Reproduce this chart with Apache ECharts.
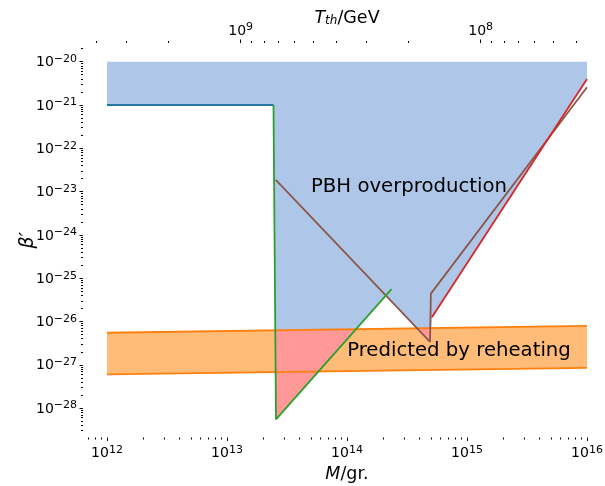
<!DOCTYPE html>
<html><head><meta charset="utf-8">
<script src="https://cdn.jsdelivr.net/npm/echarts@6/dist/echarts.min.js"></script>
<style>html,body{margin:0;padding:0;background:#fff}#c{width:605px;height:486px}</style>
</head><body><div id="c"></div>
<script>
// ---------------- data ----------------
const overprodM = [1e12, 1e16];
const overprodBeta = [1e-20, 1e-20];
const blueLineM = [1e12, 2.44e13];
const blueLineBeta = [1e-21, 1e-21];
const greenM = [2.44e13, 2.56e13, 2.35e14];
const greenBeta = [1e-21, 5.5e-29, 5.6e-26];
const brownM = [2.55e13, 4.92e14, 5.0e14, 1e16];
const brownBeta = [1.86e-23, 3.4e-27, 4.4e-26, 2.57e-21];
const redM = [5.1e14, 1e16];
const redBeta = [1.26e-26, 4.0e-21];
const reheatM = [1e12, 1e16];
const reheatUpper = [5.5e-27, 7.9e-27];
const reheatLower = [6.0e-28, 8.5e-28];
const xTickExp = [12, 13, 14, 15, 16];
const yTickExp = [-28, -27, -26, -25, -24, -23, -22, -21, -20];
const topTickExp = [9, 8];
const tempRef = [1e9, 1.30e13]; // T = 1e9 GeV at M = 1.3e13 g, T ~ M^-1/2
const labels = ['PBH overproduction', 'Predicted by reheating'];

// ---------------- helpers ----------------
const L = Math.log10;
const pts = (ms, bs) => ms.map((m, i) => [L(m), L(bs[i])]);
const XMIN = 11.8, XMAX = 16.2, YMIN = -28.679, YMAX = -19.568;
const FONT = 'DejaVu Sans';
const tToX = t => L(tempRef[1]) + 2 * (L(tempRef[0]) - L(t));

const blueLine = pts(blueLineM, blueLineBeta);
const green = pts(greenM, greenBeta);
const brown = pts(brownM, brownBeta);
const red = pts(redM, redBeta);
const up = pts(reheatM, reheatUpper);
const lo = pts(reheatM, reheatLower);

function intersect(a, b, c, d) {
  const den = (b[0]-a[0])*(d[1]-c[1]) - (b[1]-a[1])*(d[0]-c[0]);
  const t = ((c[0]-a[0])*(d[1]-c[1]) - (c[1]-a[1])*(d[0]-c[0])) / den;
  return [a[0] + t*(b[0]-a[0]), a[1] + t*(b[1]-a[1])];
}
const gb = intersect(green[1], green[2], brown[0], brown[1]);
// lower edge of the excluded region
const C = [blueLine[0], blueLine[1], green[1], gb, brown[1], red[0], red[1]];
const O = x => up[0][1] + (up[1][1]-up[0][1]) * (x-up[0][0]) / (up[1][0]-up[0][0]);
function merge(mode) {
  const out = [];
  for (let i = 0; i < C.length; i++) {
    const p = C[i];
    out.push([p[0], mode > 0 ? Math.max(p[1], O(p[0])) : Math.min(p[1], O(p[0]))]);
    if (i < C.length - 1) {
      const q = C[i+1];
      const d0 = p[1] - O(p[0]), d1 = q[1] - O(q[0]);
      if (d0 * d1 < 0) {
        const t = d0 / (d0 - d1);
        out.push([p[0] + t*(q[0]-p[0]), p[1] + t*(q[1]-p[1])]);
      }
    }
  }
  return out;
}
const top20 = pts(overprodM, overprodBeta);
const bluePoly = top20.concat(merge(1).reverse());
const pinkPoly = up.concat(merge(-1).reverse());
const orangePoly = up.concat(lo.slice().reverse());

function polySeries(poly, color, z) {
  return {
    type: 'custom', xAxisIndex: 0, yAxisIndex: 0, z: z, silent: true,
    data: [poly[0]],
    renderItem: (params, api) => ({
      type: 'polygon',
      shape: { points: poly.map(p => api.coord(p)) },
      style: { fill: color }
    })
  };
}
function lineSeries(data, color, z) {
  return {
    type: 'line', xAxisIndex: 0, yAxisIndex: 0, data: data, z: z,
    symbol: 'none', silent: true, lineStyle: { color: color, width: 1.8 }
  };
}
function minorVals(lo, hi) {
  const v = [];
  for (let n = Math.floor(lo) - 1; n <= Math.ceil(hi); n++)
    for (let k = 2; k <= 9; k++) { const x = n + L(k); if (x >= lo && x <= hi) v.push(x); }
  return v;
}
function minorTopVals() {
  const v = [];
  for (let n = 6; n <= 10; n++)
    for (let k = 2; k <= 9; k++) { const x = tToX(k * Math.pow(10, n)); if (x >= XMIN && x <= XMAX) v.push(x); }
  return v;
}
const richNum = {
  b: { fontSize: 14, fontFamily: FONT, color: '#000', lineHeight: 16, verticalAlign: 'bottom' },
  s: { fontSize: 11, fontFamily: FONT, color: '#000', lineHeight: 11, verticalAlign: 'top' }
};
const pow = e => '{b|10}{s|' + String(e).replace('-', '\u2212') + '}';
const tickStyle = len => ({ show: true, length: len, lineStyle: { color: '#000', width: 1 } });

const chart = echarts.init(document.getElementById('c'), null, { renderer: 'canvas' });
chart.setOption({
  animation: false,
  backgroundColor: '#fff',
  grid: { left: 83, top: 43, width: 528, height: 394.5, containLabel: false, outerBoundsMode: 'none' },
  xAxis: [
    { type: 'value', position: 'bottom', min: XMIN, max: XMAX,
      axisLine: { show: false }, splitLine: { show: false },
      axisTick: Object.assign(tickStyle(3.5), { customValues: xTickExp }),
      axisLabel: { customValues: xTickExp, margin: 7, formatter: v => pow(Math.round(v)), rich: richNum },
      name: '{i|M}{r|/gr.}', nameLocation: 'middle', nameGap: 28, nameMoveOverlap: false,
      nameTextStyle: { rich: {
        i: { fontSize: 17.5, fontFamily: FONT, fontStyle: 'italic', color: '#000' },
        r: { fontSize: 17.5, fontFamily: FONT, color: '#000' } } } },
    { type: 'value', position: 'bottom', min: XMIN, max: XMAX,
      axisLine: { show: false }, splitLine: { show: false }, axisLabel: { show: false },
      axisTick: Object.assign(tickStyle(2), { customValues: minorVals(XMIN, XMAX) }) },
    { type: 'value', position: 'top', min: XMIN, max: XMAX,
      axisLine: { show: false }, splitLine: { show: false },
      axisTick: Object.assign(tickStyle(3.5), { customValues: topTickExp.map(e => tToX(Math.pow(10, e))) }),
      axisLabel: { customValues: topTickExp.map(e => tToX(Math.pow(10, e))), margin: 5,
        formatter: v => pow(Math.round(L(tempRef[0]) - (v - L(tempRef[1])) / 2)), rich: richNum },
      name: '{i|T}{sub|th}{r|/GeV}', nameLocation: 'middle', nameGap: 16, nameMoveOverlap: false,
      nameTextStyle: { rich: {
        i: { fontSize: 17.5, fontFamily: FONT, fontStyle: 'italic', color: '#000', lineHeight: 20, verticalAlign: 'bottom' },
        sub: { fontSize: 12, fontFamily: FONT, fontStyle: 'italic', color: '#000', lineHeight: 12, verticalAlign: 'bottom' },
        r: { fontSize: 17.5, fontFamily: FONT, color: '#000', lineHeight: 20, verticalAlign: 'bottom' } } } },
    { type: 'value', position: 'top', min: XMIN, max: XMAX,
      axisLine: { show: false }, splitLine: { show: false }, axisLabel: { show: false },
      axisTick: Object.assign(tickStyle(2), { customValues: minorTopVals() }) }
  ],
  yAxis: [
    { type: 'value', position: 'left', min: YMIN, max: YMAX,
      axisLine: { show: false }, splitLine: { show: false },
      axisTick: Object.assign(tickStyle(3.5), { customValues: yTickExp }),
      axisLabel: { customValues: yTickExp, margin: 6, formatter: v => pow(Math.round(v)), rich: richNum },
      name: '\u03b2\u2032', nameLocation: 'middle', nameGap: 45, nameRotate: 90, nameMoveOverlap: false,
      nameTextStyle: { fontSize: 19, fontFamily: FONT, fontStyle: 'italic', color: '#000' } },
    { type: 'value', position: 'left', min: YMIN, max: YMAX,
      axisLine: { show: false }, splitLine: { show: false }, axisLabel: { show: false },
      axisTick: Object.assign(tickStyle(2), { customValues: minorVals(YMIN, YMAX) }) }
  ],
  series: [
    polySeries(orangePoly, '#ffbb78', 1),
    polySeries(bluePoly, '#aec7e8', 2),
    polySeries(pinkPoly, '#ff9896', 3),
    lineSeries(up, '#ff7f0e', 4),
    lineSeries(lo, '#ff7f0e', 4),
    lineSeries(blueLine, '#2079a3', 5),
    lineSeries(brown, '#8c564b', 5),
    lineSeries(red, '#d62728', 6),
    lineSeries(green, '#2ca02c', 6)
  ],
  graphic: [
    { type: 'text', x: 409, y: 186.5, z: 100, silent: true,
      style: { text: labels[0], fontSize: 19.7, fontFamily: FONT, fill: '#000', align: 'center', verticalAlign: 'middle' } },
    { type: 'text', x: 459, y: 351, z: 100, silent: true,
      style: { text: labels[1], fontSize: 19.7, fontFamily: FONT, fill: '#000', align: 'center', verticalAlign: 'middle' } }
  ]
});
</script></body></html>
